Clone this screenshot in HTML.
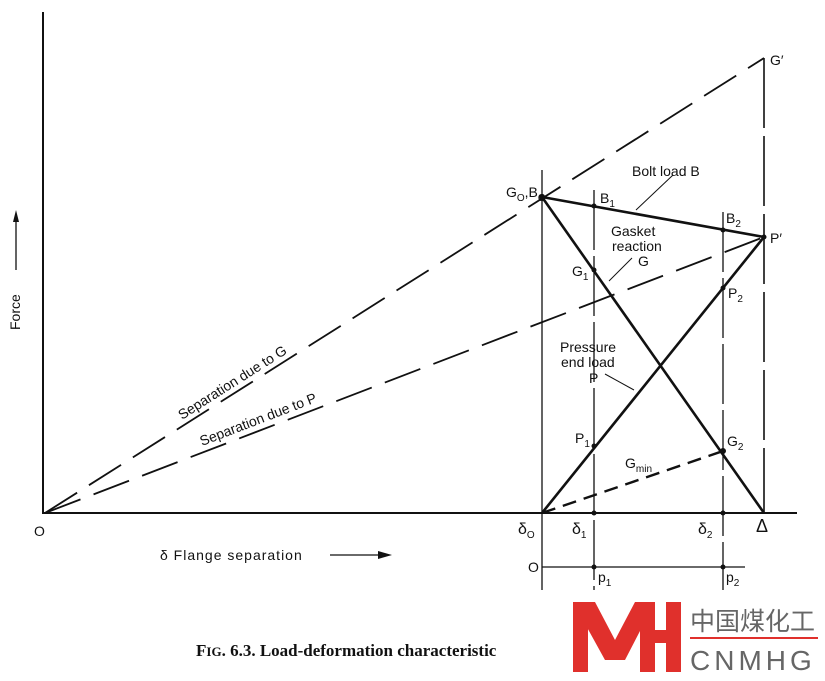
<!DOCTYPE html>
<html><head><meta charset="utf-8"><style>
body{margin:0;background:#fff}
svg{display:block}
text{font-family:"Liberation Sans",sans-serif;fill:#111}
</style></head><body>
<svg width="825" height="681" viewBox="0 0 825 681" xmlns="http://www.w3.org/2000/svg">
<g stroke="#111" fill="none">
<line x1="43" y1="12" x2="43" y2="514" stroke-width="2"/>
<line x1="43" y1="513" x2="797" y2="513" stroke-width="2"/>
<line x1="45" y1="513" x2="764" y2="58" stroke-width="1.8" stroke-dasharray="38,14"/>
<line x1="45" y1="513" x2="764" y2="237" stroke-width="1.8" stroke-dasharray="38,14"/>
<line x1="542" y1="170" x2="542" y2="590" stroke-width="1.3"/>
<line x1="594" y1="190" x2="594" y2="590" stroke-width="1.3" stroke-dasharray="60,6"/>
<line x1="723" y1="212" x2="723" y2="590" stroke-width="1.3" stroke-dasharray="60,6"/>
<line x1="764" y1="58" x2="764" y2="513" stroke-width="1.6" stroke-dasharray="70,8"/>
<line x1="542" y1="197" x2="764" y2="237" stroke-width="2.6"/>
<line x1="542" y1="197" x2="764" y2="513" stroke-width="2.6"/>
<line x1="542" y1="513" x2="764" y2="237" stroke-width="2.6"/>
<line x1="542" y1="513" x2="723" y2="451" stroke-width="2.4" stroke-dasharray="14,8"/>
<line x1="542" y1="567" x2="745" y2="567" stroke-width="1.3"/>
<line x1="673" y1="175" x2="636" y2="210"/>
<line x1="632" y1="258" x2="609" y2="281"/>
<line x1="605" y1="374" x2="634" y2="390"/>
<line x1="16" y1="270" x2="16" y2="218" stroke-width="1.3"/>
<line x1="330" y1="555" x2="380" y2="555" stroke-width="1.3"/>
</g>
<polygon points="16,210 13,222 19,222" fill="#111"/>
<polygon points="392,555 378,551 378,559" fill="#111"/>
<g fill="#111">
<circle cx="542" cy="197" r="3"/><circle cx="594" cy="206" r="2.5"/><circle cx="723" cy="230" r="2.5"/>
<circle cx="764" cy="237" r="2.5"/><circle cx="594" cy="270" r="2.5"/><circle cx="723" cy="288" r="2.5"/>
<circle cx="594" cy="446" r="2.5"/><circle cx="723" cy="451" r="3"/>
<circle cx="594" cy="513" r="2.5"/><circle cx="723" cy="513" r="2.5"/>
<circle cx="594" cy="567" r="2.5"/><circle cx="723" cy="567" r="2.5"/>
</g>
<g font-size="14">
<text x="34" y="536">O</text>
<text x="0" y="0" transform="translate(20,330) rotate(-90)" font-size="14">Force</text>
<text x="160" y="560" font-size="14" letter-spacing="1">δ Flange separation</text>
<text x="0" y="0" transform="translate(182,420) rotate(-32.4)" font-size="14">Separation due to G</text>
<text x="0" y="0" transform="translate(202,446) rotate(-21)" font-size="14">Separation due to P</text>
<text x="506" y="197">G<tspan font-size="10" dy="4">O</tspan><tspan dy="-4">,B</tspan><tspan font-size="10" dy="4">O</tspan></text>
<text x="600" y="203">B<tspan font-size="10" dy="4">1</tspan></text>
<text x="726" y="223">B<tspan font-size="10" dy="4">2</tspan></text>
<text x="770" y="243">P′</text>
<text x="770" y="65">G′</text>
<text x="632" y="176">Bolt load B</text>
<text x="611" y="236">Gasket</text>
<text x="612" y="251">reaction</text>
<text x="638" y="266">G</text>
<text x="572" y="276">G<tspan font-size="10" dy="4">1</tspan></text>
<text x="728" y="298">P<tspan font-size="10" dy="4">2</tspan></text>
<text x="560" y="352">Pressure</text>
<text x="561" y="367">end load</text>
<text x="589" y="383">P</text>
<text x="575" y="443">P<tspan font-size="10" dy="4">1</tspan></text>
<text x="727" y="446">G<tspan font-size="10" dy="4">2</tspan></text>
<text x="625" y="468">G<tspan font-size="10" dy="4">min</tspan></text>
<text x="518" y="534" font-size="16">δ<tspan font-size="10" dy="4">O</tspan></text>
<text x="572" y="534" font-size="16">δ<tspan font-size="10" dy="4">1</tspan></text>
<text x="698" y="534" font-size="16">δ<tspan font-size="10" dy="4">2</tspan></text>
<text x="756" y="532" font-size="18">Δ</text>
<text x="528" y="572">O</text>
<text x="598" y="582">p<tspan font-size="10" dy="4">1</tspan></text>
<text x="726" y="582">p<tspan font-size="10" dy="4">2</tspan></text>
</g>
<text x="196" y="656" font-size="17" font-weight="bold" style="font-family:'Liberation Serif',serif">F<tspan font-size="13">IG</tspan>. 6.3. Load-deformation characteristic</text>
<g fill="#e0302c">
<rect x="573" y="602" width="15" height="70"/>
<polygon points="573,602 595,602 615,640 635,602 655,602 625,660 605,660"/>
<rect x="640" y="602" width="15" height="70"/>
<rect x="666" y="602" width="15" height="70"/>
<rect x="640" y="630" width="40" height="13"/>
</g>
<rect x="690" y="637" width="128" height="2" fill="#e0302c"/>
<text x="690" y="630" font-size="25" style="fill:#666;font-family:'Liberation Sans','Noto Sans CJK SC',sans-serif">中国煤化工</text>
<text x="690" y="670" font-size="28" letter-spacing="4" style="fill:#666">CNMHG</text>
</svg>
</body></html>
